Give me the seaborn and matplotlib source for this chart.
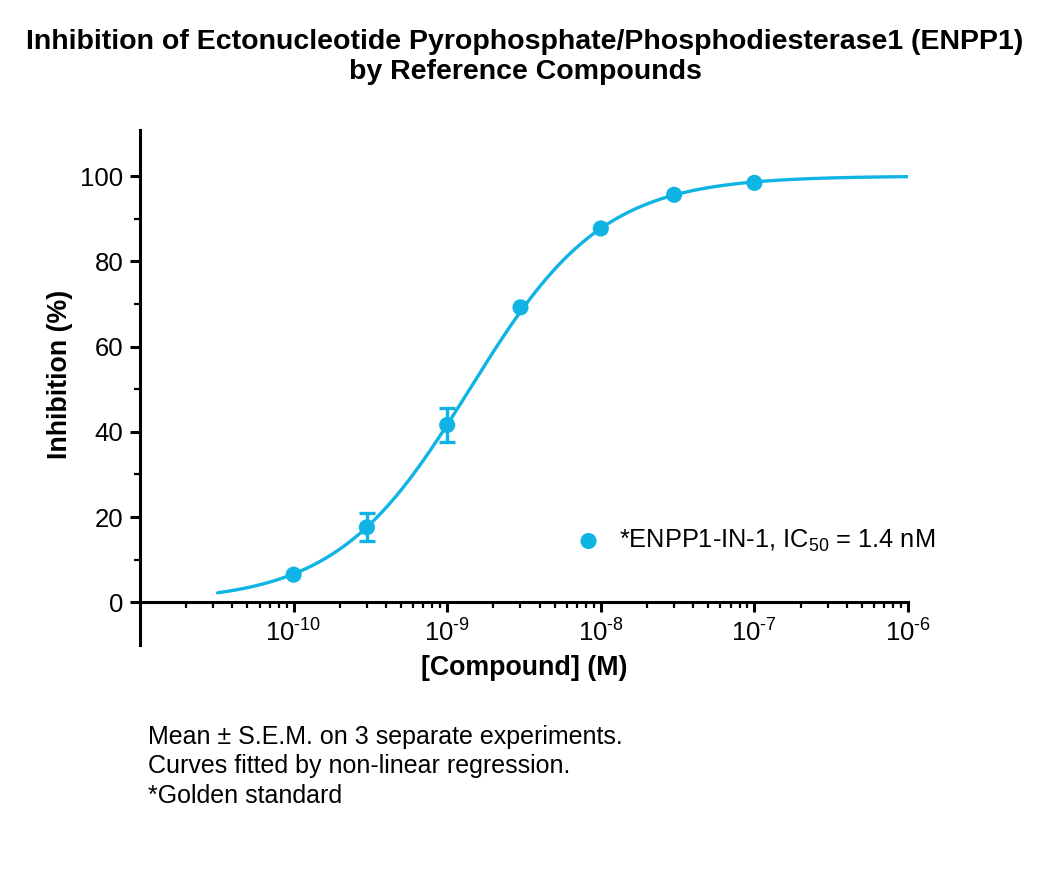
import numpy as np
import pandas as pd
import matplotlib
matplotlib.use("Agg")
import matplotlib.pyplot as plt
import matplotlib.ticker as mticker
import seaborn as sns

# ---- data ----
conc = [1e-10, 3e-10, 1e-9, 3e-9, 1e-8, 3e-8, 1e-7]
inhibition = [6.5, 17.6, 41.6, 69.2, 87.7, 95.6, 98.4]
sem = [0.0, 3.3, 4.0, 0.0, 0.0, 0.0, 0.0]
ic50 = 1.4e-9
hill = 1.0
top, bottom = 100.0, 0.0
curve_range = [3.2e-11, 1e-6]
x_ticks = [1e-10, 1e-9, 1e-8, 1e-7, 1e-6]
y_ticks = [0, 20, 40, 60, 80, 100]
series_label = "*ENPP1-IN-1, IC$_{50}$ = 1.4 nM"
title = "Inhibition of Ectonucleotide Pyrophosphate/Phosphodiesterase1 (ENPP1)\nby Reference Compounds"
footnote = ["Mean \u00b1 S.E.M. on 3 separate experiments.",
            "Curves fitted by non-linear regression.",
            "*Golden standard"]

color = "#0fb4e4"

sns.set_theme(style="ticks")
plt.rcParams["font.family"] = ["Liberation Sans", "DejaVu Sans"]
plt.rcParams["mathtext.fontset"] = "custom"
plt.rcParams["mathtext.rm"] = "Liberation Sans"
plt.rcParams["mathtext.it"] = "Liberation Sans:italic"
plt.rcParams["mathtext.bf"] = "Liberation Sans:bold"
plt.rcParams["text.color"] = "black"
plt.rcParams["axes.labelcolor"] = "black"

fig = plt.figure(figsize=(10.5, 8.86), dpi=100)
ax = fig.add_axes([140/1050, 1-645/886, (908-140)/1050, (645-130)/886])

# fitted curve (4PL with fitted parameters)
xc = np.logspace(np.log10(curve_range[0]), np.log10(curve_range[1]), 300)
yc = bottom + (top - bottom) / (1 + (ic50 / xc) ** hill)
sns.lineplot(x=xc, y=yc, ax=ax, color=color, lw=2.4, legend=False)

df = pd.DataFrame({"conc": conc, "inh": inhibition, "sem": sem})
de = df[df["sem"] > 0]
ax.errorbar(de["conc"], de["inh"], yerr=de["sem"], fmt="none", ecolor=color,
            elinewidth=2.4, capsize=5.5, capthick=2.4, zorder=3)
sns.scatterplot(data=df, x="conc", y="inh", ax=ax, color=color, s=135,
                edgecolor="none", linewidth=0, zorder=4, legend=False)

ax.set_xscale("log")
ax.set_xlim(1e-11, 1e-6)
ax.set_ylim(-10, 110.8)

# legend as text
ax.scatter([10**-8.08], [14.4], s=135, color=color, edgecolor="none", linewidth=0, zorder=4)
ax.text(10**-7.88, 14.4, series_label, fontsize=18.3, va="center", ha="left")

# spines
for s in ["top", "right"]:
    ax.spines[s].set_visible(False)
ax.spines["bottom"].set_position(("data", 0))
ax.spines["left"].set_linewidth(2.2)
ax.spines["bottom"].set_linewidth(2.2)
ax.spines["left"].set_color("black")
ax.spines["bottom"].set_color("black")


def fmt_exp(v, pos):
    n = int(round(np.log10(v)))
    return r"10$^{\text{%d}}$" % n


ax.set_xticks(x_ticks)
ax.xaxis.set_major_formatter(mticker.FuncFormatter(fmt_exp))
ax.xaxis.set_minor_locator(mticker.LogLocator(base=10, subs=np.arange(2, 10), numticks=20))
ax.xaxis.set_minor_formatter(mticker.NullFormatter())
ax.set_yticks(y_ticks)
ax.yaxis.set_minor_locator(mticker.FixedLocator([10, 30, 50, 70, 90]))

ax.tick_params(axis="both", which="major", direction="out", length=7, width=2.2,
               labelsize=18.5, colors="black", pad=5)
ax.tick_params(axis="both", which="minor", direction="out", length=4, width=1.6, colors="black")
ax.tick_params(axis="x", which="major", pad=5)

ax.set_xlabel("[Compound] (M)", fontsize=19.3, fontweight="bold")
ax.set_ylabel("Inhibition (%)", fontsize=19.3, fontweight="bold")
ax.xaxis.set_label_coords(0.5, -(655 - 645) / 515)
ax.yaxis.set_label_coords((73 - 140) / 768, (645 - 374) / 515)

fig.text(0.5, 1-57/886, title, ha="center", va="center", fontsize=20.5,
         fontweight="bold", linespacing=1.2)

for i, line in enumerate(footnote):
    fig.text(148/1050, 1-(737 + i*29.5)/886, line, ha="left", va="center", fontsize=18)

fig.savefig("out.png", dpi=100)
